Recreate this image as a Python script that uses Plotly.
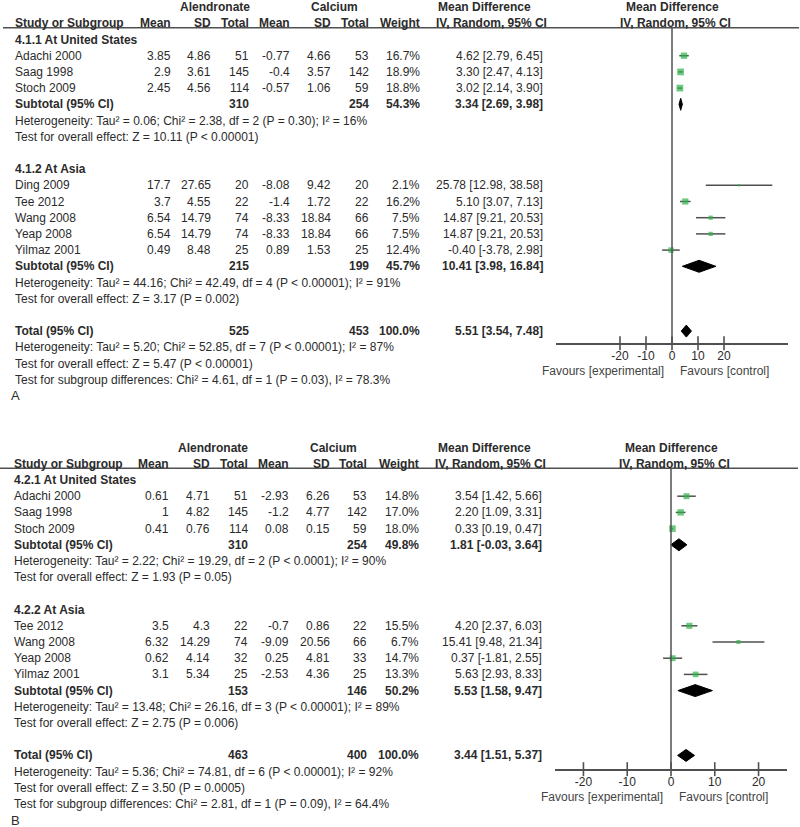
import plotly.graph_objects as go

FIG_W, FIG_H = 800, 827
FONT = "Liberation Sans, Arial, sans-serif"
TXT = "#2b2b2b"
GREEN = "#2fb14a"
LINE = "#505050"
ROW_H = 16.2

# ---------------- Panel A data ----------------
A_us_title = "4.1.1 At United States"
A_us_study = ["Adachi 2000", "Saag 1998", "Stoch 2009"]
A_us_alen_mean = [3.85, 2.9, 2.45]
A_us_alen_sd = [4.86, 3.61, 4.56]
A_us_alen_n = [51, 145, 114]
A_us_calc_mean = [-0.77, -0.4, -0.57]
A_us_calc_sd = [4.66, 3.57, 1.06]
A_us_calc_n = [53, 142, 59]
A_us_weight = [16.7, 18.9, 18.8]
A_us_md = [4.62, 3.30, 3.02]
A_us_lo = [2.79, 2.47, 2.14]
A_us_hi = [6.45, 4.13, 3.90]
A_us_subtotal = [310, 254, 54.3, 3.34, 2.69, 3.98]
A_us_het = "Heterogeneity: Tau² = 0.06; Chi² = 2.38, df = 2 (P = 0.30); I² = 16%"
A_us_test = "Test for overall effect: Z = 10.11 (P < 0.00001)"

A_as_title = "4.1.2 At Asia"
A_as_study = ["Ding 2009", "Tee 2012", "Wang 2008", "Yeap 2008", "Yilmaz 2001"]
A_as_alen_mean = [17.7, 3.7, 6.54, 6.54, 0.49]
A_as_alen_sd = [27.65, 4.55, 14.79, 14.79, 8.48]
A_as_alen_n = [20, 22, 74, 74, 25]
A_as_calc_mean = [-8.08, -1.4, -8.33, -8.33, 0.89]
A_as_calc_sd = [9.42, 1.72, 18.84, 18.84, 1.53]
A_as_calc_n = [20, 22, 66, 66, 25]
A_as_weight = [2.1, 16.2, 7.5, 7.5, 12.4]
A_as_md = [25.78, 5.10, 14.87, 14.87, -0.40]
A_as_lo = [12.98, 3.07, 9.21, 9.21, -3.78]
A_as_hi = [38.58, 7.13, 20.53, 20.53, 2.98]
A_as_subtotal = [215, 199, 45.7, 10.41, 3.98, 16.84]
A_as_het = "Heterogeneity: Tau² = 44.16; Chi² = 42.49, df = 4 (P < 0.00001); I² = 91%"
A_as_test = "Test for overall effect: Z = 3.17 (P = 0.002)"

A_total = [525, 453, 100.0, 5.51, 3.54, 7.48]
A_total_het = "Heterogeneity: Tau² = 5.20; Chi² = 52.85, df = 7 (P < 0.00001); I² = 87%"
A_total_test = "Test for overall effect: Z = 5.47 (P < 0.00001)"
A_subgroup_test = "Test for subgroup differences: Chi² = 4.61, df = 1 (P = 0.03), I² = 78.3%"

# ---------------- Panel B data ----------------
B_us_title = "4.2.1 At United States"
B_us_study = ["Adachi 2000", "Saag 1998", "Stoch 2009"]
B_us_alen_mean = [0.61, 1, 0.41]
B_us_alen_sd = [4.71, 4.82, 0.76]
B_us_alen_n = [51, 145, 114]
B_us_calc_mean = [-2.93, -1.2, 0.08]
B_us_calc_sd = [6.26, 4.77, 0.15]
B_us_calc_n = [53, 142, 59]
B_us_weight = [14.8, 17.0, 18.0]
B_us_md = [3.54, 2.20, 0.33]
B_us_lo = [1.42, 1.09, 0.19]
B_us_hi = [5.66, 3.31, 0.47]
B_us_subtotal = [310, 254, 49.8, 1.81, -0.03, 3.64]
B_us_het = "Heterogeneity: Tau² = 2.22; Chi² = 19.29, df = 2 (P < 0.0001); I² = 90%"
B_us_test = "Test for overall effect: Z = 1.93 (P = 0.05)"

B_as_title = "4.2.2 At Asia"
B_as_study = ["Tee 2012", "Wang 2008", "Yeap 2008", "Yilmaz 2001"]
B_as_alen_mean = [3.5, 6.32, 0.62, 3.1]
B_as_alen_sd = [4.3, 14.29, 4.14, 5.34]
B_as_alen_n = [22, 74, 32, 25]
B_as_calc_mean = [-0.7, -9.09, 0.25, -2.53]
B_as_calc_sd = [0.86, 20.56, 4.81, 4.36]
B_as_calc_n = [22, 66, 33, 25]
B_as_weight = [15.5, 6.7, 14.7, 13.3]
B_as_md = [4.20, 15.41, 0.37, 5.63]
B_as_lo = [2.37, 9.48, -1.81, 2.93]
B_as_hi = [6.03, 21.34, 2.55, 8.33]
B_as_subtotal = [153, 146, 50.2, 5.53, 1.58, 9.47]
B_as_het = "Heterogeneity: Tau² = 13.48; Chi² = 26.16, df = 3 (P < 0.00001); I² = 89%"
B_as_test = "Test for overall effect: Z = 2.75 (P = 0.006)"

B_total = [463, 400, 100.0, 3.44, 1.51, 5.37]
B_total_het = "Heterogeneity: Tau² = 5.36; Chi² = 74.81, df = 6 (P < 0.00001); I² = 92%"
B_total_test = "Test for overall effect: Z = 3.50 (P = 0.0005)"
B_subgroup_test = "Test for subgroup differences: Chi² = 2.81, df = 1 (P = 0.09), I² = 64.4%"

TICK_VALS = [-20, -10, 0, 10, 20]
TICK_TEXT = ["-20", "-10", "0", "10", "20"]
HEADERS = ["Mean", "SD", "Total", "Mean", "SD", "Total", "Weight"]


def group_rows(title, study, am, asd, an, cm, csd, cn, w, md, lo, hi, sub, het, test):
    rows = [dict(kind="group", text=title)]
    for i in range(len(study)):
        rows.append(dict(kind="study", name=study[i], vals=[am[i], asd[i], an[i], cm[i], csd[i], cn[i]],
                         w=w[i], md=md[i], lo=lo[i], hi=hi[i]))
    rows.append(dict(kind="sub", name="Subtotal (95% CI)", n1=sub[0], n2=sub[1], w=sub[2],
                     md=sub[3], lo=sub[4], hi=sub[5]))
    rows.append(dict(kind="text", text=het))
    rows.append(dict(kind="text", text=test))
    return rows


A_rows = (group_rows(A_us_title, A_us_study, A_us_alen_mean, A_us_alen_sd, A_us_alen_n, A_us_calc_mean,
                     A_us_calc_sd, A_us_calc_n, A_us_weight, A_us_md, A_us_lo, A_us_hi, A_us_subtotal,
                     A_us_het, A_us_test)
          + [dict(kind="blank")]
          + group_rows(A_as_title, A_as_study, A_as_alen_mean, A_as_alen_sd, A_as_alen_n, A_as_calc_mean,
                       A_as_calc_sd, A_as_calc_n, A_as_weight, A_as_md, A_as_lo, A_as_hi, A_as_subtotal,
                       A_as_het, A_as_test)
          + [dict(kind="blank"),
             dict(kind="sub", name="Total (95% CI)", n1=A_total[0], n2=A_total[1], w=A_total[2],
                  md=A_total[3], lo=A_total[4], hi=A_total[5]),
             dict(kind="text", text=A_total_het), dict(kind="text", text=A_total_test),
             dict(kind="text", text=A_subgroup_test)])

B_rows = (group_rows(B_us_title, B_us_study, B_us_alen_mean, B_us_alen_sd, B_us_alen_n, B_us_calc_mean,
                     B_us_calc_sd, B_us_calc_n, B_us_weight, B_us_md, B_us_lo, B_us_hi, B_us_subtotal,
                     B_us_het, B_us_test)
          + [dict(kind="blank")]
          + group_rows(B_as_title, B_as_study, B_as_alen_mean, B_as_alen_sd, B_as_alen_n, B_as_calc_mean,
                       B_as_calc_sd, B_as_calc_n, B_as_weight, B_as_md, B_as_lo, B_as_hi, B_as_subtotal,
                       B_as_het, B_as_test)
          + [dict(kind="blank"),
             dict(kind="sub", name="Total (95% CI)", n1=B_total[0], n2=B_total[1], w=B_total[2],
                  md=B_total[3], lo=B_total[4], hi=B_total[5]),
             dict(kind="text", text=B_total_het), dict(kind="text", text=B_total_test),
             dict(kind="text", text=B_subgroup_test)])

fig = go.Figure()
annotations = []
shapes = []
layout_axes = {}


def ann(text, xpx, row, yref, anchor="right", bold=False, size=12, color=TXT):
    annotations.append(dict(text=f"<b>{text}</b>" if bold else text, x=xpx / FIG_W, xref="paper",
                            y=row, yref=yref, xanchor=anchor, yanchor="middle", showarrow=False,
                            font=dict(family=FONT, size=size, color=color)))


def fmt(v):
    return f"{v:g}"


def panel(rows, idx, row0_px, cols, name_x, line_x, xdom_px, xrange, axis_off, label):
    xa = "x" if idx == 1 else f"x{idx}"
    ya = "y" if idx == 1 else f"y{idx}"
    xkey = "xaxis" if idx == 1 else f"xaxis{idx}"
    ykey = "yaxis" if idx == 1 else f"yaxis{idx}"
    r_top = (0 - row0_px) / ROW_H
    r_bot = (FIG_H - row0_px) / ROW_H

    # headers
    ann("Alendronate", (cols[0] + cols[2]) / 2 + 3, -2, ya, anchor="center", bold=True)
    ann("Calcium", (cols[3] + cols[5]) / 2 + 3, -2, ya, anchor="center", bold=True)
    ann("Mean Difference", cols[7] - 60, -2, ya, anchor="center", bold=True)
    ann("Mean Difference", (xdom_px[0] + xdom_px[1]) / 2, -2, ya, anchor="center", bold=True)
    ann("Study or Subgroup", name_x, -1, ya, anchor="left", bold=True)
    for h, c in zip(HEADERS, cols):
        ann(h, c, -1, ya, bold=True)
    ann("IV, Random, 95% CI", cols[7] - 54, -1, ya, anchor="center", bold=True)
    ann("IV, Random, 95% CI", (xdom_px[0] + xdom_px[1]) / 2 + 3, -1, ya, anchor="center", bold=True)
    shapes.append(dict(type="line", xref="paper", yref=ya, x0=line_x[0] / FIG_W, x1=line_x[1] / FIG_W,
                       y0=-0.72, y1=-0.72, line=dict(color=LINE, width=1.5)))

    wx, wy, sx, sy, ss = [], [], [], [], []
    total_row = 0
    for i, r in enumerate(rows):
        k = r["kind"]
        if k == "group":
            ann(r["text"], name_x, i, ya, anchor="left", bold=True)
        elif k == "text":
            ann(r["text"], name_x, i, ya, anchor="left")
        elif k == "study":
            ann(r["name"], name_x, i, ya, anchor="left")
            for v, c in zip(r["vals"], cols[:6]):
                ann(fmt(v), c, i, ya)
            ann(f"{r['w']:.1f}%", cols[6], i, ya)
            ann(f"{r['md']:.2f} [{r['lo']:.2f}, {r['hi']:.2f}]", cols[7], i, ya)
            wx += [r["lo"], r["hi"], None]
            wy += [i, i, None]
            sx.append(r["md"]); sy.append(i); ss.append(1.55 * r["w"] ** 0.5)
        elif k == "sub":
            ann(r["name"], name_x, i, ya, anchor="left", bold=True)
            ann(str(r["n1"]), cols[2], i, ya, bold=True)
            ann(str(r["n2"]), cols[5], i, ya, bold=True)
            ann(f"{r['w']:.1f}%", cols[6], i, ya, bold=True)
            ann(f"{r['md']:.2f} [{r['lo']:.2f}, {r['hi']:.2f}]", cols[7], i, ya, bold=True)
            h = 0.37
            fig.add_trace(go.Scatter(x=[r["lo"], r["md"], r["hi"], r["md"], r["lo"]],
                                     y=[i, i - h, i, i + h, i], mode="lines", fill="toself",
                                     fillcolor="black", line=dict(color="black", width=1),
                                     xaxis=xa, yaxis=ya, hoverinfo="skip", showlegend=False))
            if r["name"].startswith("Total"):
                total_row = i
    axis_row = total_row + axis_off

    fig.add_trace(go.Scatter(x=wx, y=wy, mode="lines", line=dict(color=LINE, width=1.5),
                             xaxis=xa, yaxis=ya, hoverinfo="skip", showlegend=False))
    fig.add_trace(go.Scatter(x=sx, y=sy, mode="markers",
                             marker=dict(symbol="square", size=ss, color=GREEN, line=dict(width=0)),
                             xaxis=xa, yaxis=ya, hoverinfo="skip", showlegend=False))
    # tick crosses
    fig.add_trace(go.Scatter(x=TICK_VALS, y=[axis_row] * len(TICK_VALS), mode="markers",
                             marker=dict(symbol="line-ns", size=10, color=LINE,
                                         line=dict(color=LINE, width=1.6)),
                             xaxis=xa, yaxis=ya, hoverinfo="skip", showlegend=False, cliponaxis=False))
    # line of no effect
    shapes.append(dict(type="line", xref=xa, yref=ya, x0=0, x1=0, y0=-0.72, y1=axis_row,
                       line=dict(color=LINE, width=1.5)))

    axis_px = row0_px + axis_row * ROW_H
    layout_axes[xkey] = dict(domain=[xdom_px[0] / FIG_W, xdom_px[1] / FIG_W], range=xrange,
                             anchor="free", position=1 - axis_px / FIG_H, showline=True,
                             linecolor=LINE, linewidth=1.5, tickvals=TICK_VALS, ticktext=TICK_TEXT,
                             ticks="outside", ticklen=1, tickcolor="rgba(0,0,0,0)",
                             tickfont=dict(family=FONT, size=12, color=TXT),
                             showgrid=False, zeroline=False, fixedrange=True)
    layout_axes[ykey] = dict(domain=[0, 1], range=[r_bot, r_top], visible=False, anchor=xa,
                             fixedrange=True)

    zero_px = xdom_px[0] + (0 - xrange[0]) / (xrange[1] - xrange[0]) * (xdom_px[1] - xdom_px[0])
    fav_row = axis_row + 1.72
    ann("Favours [experimental]", zero_px - 6, fav_row, ya, anchor="right", color="#444444")
    ann("Favours [control]", zero_px + 6, fav_row, ya, anchor="left", color="#444444")
    ann(label, 9, len(rows), ya, anchor="left", size=13)


panel(A_rows, 1, 39.5, [173, 213, 251, 292, 333, 371, 422, 545], 13, (3, 799), (556, 788),
      [-44.6, 44.6], 0.75, "A")
panel(B_rows, 2, 480.0, [171, 212, 250, 291, 332, 369, 421, 544], 12, (0, 798), (555, 787),
      [-26.5, 26.5], 0.85, "B")

fig.update_layout(width=FIG_W, height=FIG_H, margin=dict(l=0, r=0, t=0, b=0),
                  paper_bgcolor="white", plot_bgcolor="rgba(0,0,0,0)", hovermode=False,
                  annotations=annotations, shapes=shapes, showlegend=False, **layout_axes)
fig.write_html("out.html", config={"displayModeBar": False, "staticPlot": True},
               post_script="document.body.style.margin='0';document.body.style.overflow='hidden';")
